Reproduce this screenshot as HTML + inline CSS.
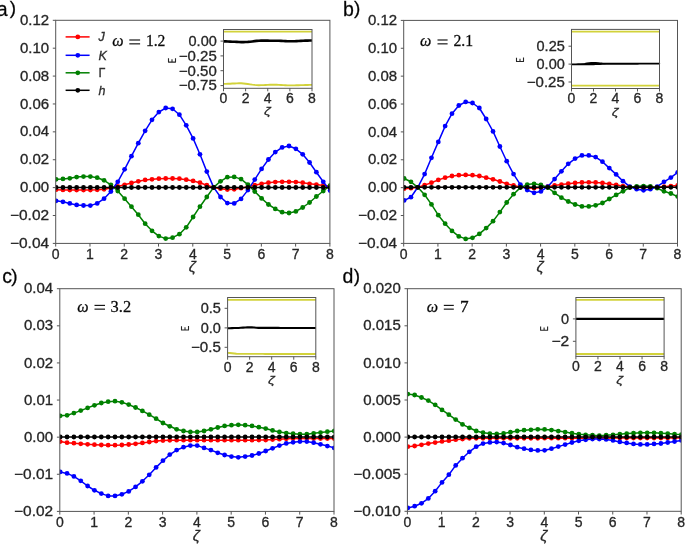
<!DOCTYPE html><html><head><meta charset="utf-8"><style>html,body{margin:0;padding:0;background:#fff;}svg{display:block;will-change:transform;filter:blur(0.3px);}svg text{stroke:#262626;stroke-width:0.3px;}</style></head><body>
<svg width="685" height="544" viewBox="0 0 685 544" font-family='"Liberation Sans", sans-serif' font-size="14" fill="#262626">
<rect width="685" height="544" fill="#fff"/>
<clipPath id="cpa"><rect x="55.7" y="20.3" width="274.2" height="223.1"/></clipPath>
<g clip-path="url(#cpa)">
<polyline points="56.1,189.7 62.95,189.9 69.8,190 76.65,190.1 83.5,190.1 90.35,190 97.2,189.8 104.05,189.3 110.9,188 117.75,186.5 124.6,184.8 131.45,183 138.3,181.3 145.15,179.9 152,179.3 158.85,178.7 165.7,178.5 172.55,178.5 179.4,178.7 186.25,179.7 193.1,180.9 199.95,182.7 206.8,185.2 213.65,187.4 220.5,188.7 227.35,189.6 234.2,189.3 241.05,188.2 247.9,186.8 254.75,185.2 261.6,183.8 268.45,182.7 275.3,182.1 282.15,181.8 289,181.8 295.85,182.1 302.7,182.7 309.55,183.8 316.4,184.6 323.25,185.4 330.1,186" fill="none" stroke="#ff0000" stroke-width="1.5" stroke-linejoin="round"/>
<g fill="#ff0000">
<circle cx="56.1" cy="189.7" r="2.4"/>
<circle cx="62.95" cy="189.9" r="2.4"/>
<circle cx="69.8" cy="190" r="2.4"/>
<circle cx="76.65" cy="190.1" r="2.4"/>
<circle cx="83.5" cy="190.1" r="2.4"/>
<circle cx="90.35" cy="190" r="2.4"/>
<circle cx="97.2" cy="189.8" r="2.4"/>
<circle cx="104.05" cy="189.3" r="2.4"/>
<circle cx="110.9" cy="188" r="2.4"/>
<circle cx="117.75" cy="186.5" r="2.4"/>
<circle cx="124.6" cy="184.8" r="2.4"/>
<circle cx="131.45" cy="183" r="2.4"/>
<circle cx="138.3" cy="181.3" r="2.4"/>
<circle cx="145.15" cy="179.9" r="2.4"/>
<circle cx="152" cy="179.3" r="2.4"/>
<circle cx="158.85" cy="178.7" r="2.4"/>
<circle cx="165.7" cy="178.5" r="2.4"/>
<circle cx="172.55" cy="178.5" r="2.4"/>
<circle cx="179.4" cy="178.7" r="2.4"/>
<circle cx="186.25" cy="179.7" r="2.4"/>
<circle cx="193.1" cy="180.9" r="2.4"/>
<circle cx="199.95" cy="182.7" r="2.4"/>
<circle cx="206.8" cy="185.2" r="2.4"/>
<circle cx="213.65" cy="187.4" r="2.4"/>
<circle cx="220.5" cy="188.7" r="2.4"/>
<circle cx="227.35" cy="189.6" r="2.4"/>
<circle cx="234.2" cy="189.3" r="2.4"/>
<circle cx="241.05" cy="188.2" r="2.4"/>
<circle cx="247.9" cy="186.8" r="2.4"/>
<circle cx="254.75" cy="185.2" r="2.4"/>
<circle cx="261.6" cy="183.8" r="2.4"/>
<circle cx="268.45" cy="182.7" r="2.4"/>
<circle cx="275.3" cy="182.1" r="2.4"/>
<circle cx="282.15" cy="181.8" r="2.4"/>
<circle cx="289" cy="181.8" r="2.4"/>
<circle cx="295.85" cy="182.1" r="2.4"/>
<circle cx="302.7" cy="182.7" r="2.4"/>
<circle cx="309.55" cy="183.8" r="2.4"/>
<circle cx="316.4" cy="184.6" r="2.4"/>
<circle cx="323.25" cy="185.4" r="2.4"/>
<circle cx="330.1" cy="186" r="2.4"/>
</g>
<polyline points="56.1,200.8 62.95,201.8 69.8,203.4 76.65,204.9 83.5,205.5 90.35,205.6 97.2,203.4 104.05,198.7 110.9,191.5 117.75,181.8 124.6,169.3 131.45,156.2 138.3,143.2 145.15,130.8 152,119.8 158.85,112.1 165.7,108 172.55,108.8 179.4,114.7 186.25,125.3 193.1,138.4 199.95,154.3 206.8,171.6 213.65,187.4 220.5,197 227.35,203.1 234.2,203.4 241.05,198.9 247.9,190.1 254.75,179.6 261.6,168.9 268.45,159.5 275.3,152.1 282.15,147.4 289,146 295.85,148.8 302.7,154.3 309.55,162.5 316.4,172.2 323.25,181.8 330.1,190.5" fill="none" stroke="#0000ff" stroke-width="1.5" stroke-linejoin="round"/>
<g fill="#0000ff">
<circle cx="56.1" cy="200.8" r="2.4"/>
<circle cx="62.95" cy="201.8" r="2.4"/>
<circle cx="69.8" cy="203.4" r="2.4"/>
<circle cx="76.65" cy="204.9" r="2.4"/>
<circle cx="83.5" cy="205.5" r="2.4"/>
<circle cx="90.35" cy="205.6" r="2.4"/>
<circle cx="97.2" cy="203.4" r="2.4"/>
<circle cx="104.05" cy="198.7" r="2.4"/>
<circle cx="110.9" cy="191.5" r="2.4"/>
<circle cx="117.75" cy="181.8" r="2.4"/>
<circle cx="124.6" cy="169.3" r="2.4"/>
<circle cx="131.45" cy="156.2" r="2.4"/>
<circle cx="138.3" cy="143.2" r="2.4"/>
<circle cx="145.15" cy="130.8" r="2.4"/>
<circle cx="152" cy="119.8" r="2.4"/>
<circle cx="158.85" cy="112.1" r="2.4"/>
<circle cx="165.7" cy="108" r="2.4"/>
<circle cx="172.55" cy="108.8" r="2.4"/>
<circle cx="179.4" cy="114.7" r="2.4"/>
<circle cx="186.25" cy="125.3" r="2.4"/>
<circle cx="193.1" cy="138.4" r="2.4"/>
<circle cx="199.95" cy="154.3" r="2.4"/>
<circle cx="206.8" cy="171.6" r="2.4"/>
<circle cx="213.65" cy="187.4" r="2.4"/>
<circle cx="220.5" cy="197" r="2.4"/>
<circle cx="227.35" cy="203.1" r="2.4"/>
<circle cx="234.2" cy="203.4" r="2.4"/>
<circle cx="241.05" cy="198.9" r="2.4"/>
<circle cx="247.9" cy="190.1" r="2.4"/>
<circle cx="254.75" cy="179.6" r="2.4"/>
<circle cx="261.6" cy="168.9" r="2.4"/>
<circle cx="268.45" cy="159.5" r="2.4"/>
<circle cx="275.3" cy="152.1" r="2.4"/>
<circle cx="282.15" cy="147.4" r="2.4"/>
<circle cx="289" cy="146" r="2.4"/>
<circle cx="295.85" cy="148.8" r="2.4"/>
<circle cx="302.7" cy="154.3" r="2.4"/>
<circle cx="309.55" cy="162.5" r="2.4"/>
<circle cx="316.4" cy="172.2" r="2.4"/>
<circle cx="323.25" cy="181.8" r="2.4"/>
<circle cx="330.1" cy="190.5" r="2.4"/>
</g>
<polyline points="56.1,179.3 62.95,178.9 69.8,178.3 76.65,177.1 83.5,176.6 90.35,176.6 97.2,177.7 104.05,180.3 110.9,184.8 117.75,191 124.6,198.7 131.45,206.7 138.3,214.7 145.15,223.7 152,230.8 158.85,236.1 165.7,238.6 172.55,237.7 179.4,234.2 186.25,227.3 193.1,217 199.95,206.7 206.8,197 213.65,187.4 220.5,181.3 227.35,177.2 234.2,176.9 241.05,179.1 247.9,184.6 254.75,191.5 261.6,198.4 268.45,204.5 275.3,208.9 282.15,212.2 289,213 295.85,211.4 302.7,207.5 309.55,202.5 316.4,196.5 323.25,191 330.1,185.5" fill="none" stroke="#008000" stroke-width="1.5" stroke-linejoin="round"/>
<g fill="#008000">
<circle cx="56.1" cy="179.3" r="2.4"/>
<circle cx="62.95" cy="178.9" r="2.4"/>
<circle cx="69.8" cy="178.3" r="2.4"/>
<circle cx="76.65" cy="177.1" r="2.4"/>
<circle cx="83.5" cy="176.6" r="2.4"/>
<circle cx="90.35" cy="176.6" r="2.4"/>
<circle cx="97.2" cy="177.7" r="2.4"/>
<circle cx="104.05" cy="180.3" r="2.4"/>
<circle cx="110.9" cy="184.8" r="2.4"/>
<circle cx="117.75" cy="191" r="2.4"/>
<circle cx="124.6" cy="198.7" r="2.4"/>
<circle cx="131.45" cy="206.7" r="2.4"/>
<circle cx="138.3" cy="214.7" r="2.4"/>
<circle cx="145.15" cy="223.7" r="2.4"/>
<circle cx="152" cy="230.8" r="2.4"/>
<circle cx="158.85" cy="236.1" r="2.4"/>
<circle cx="165.7" cy="238.6" r="2.4"/>
<circle cx="172.55" cy="237.7" r="2.4"/>
<circle cx="179.4" cy="234.2" r="2.4"/>
<circle cx="186.25" cy="227.3" r="2.4"/>
<circle cx="193.1" cy="217" r="2.4"/>
<circle cx="199.95" cy="206.7" r="2.4"/>
<circle cx="206.8" cy="197" r="2.4"/>
<circle cx="213.65" cy="187.4" r="2.4"/>
<circle cx="220.5" cy="181.3" r="2.4"/>
<circle cx="227.35" cy="177.2" r="2.4"/>
<circle cx="234.2" cy="176.9" r="2.4"/>
<circle cx="241.05" cy="179.1" r="2.4"/>
<circle cx="247.9" cy="184.6" r="2.4"/>
<circle cx="254.75" cy="191.5" r="2.4"/>
<circle cx="261.6" cy="198.4" r="2.4"/>
<circle cx="268.45" cy="204.5" r="2.4"/>
<circle cx="275.3" cy="208.9" r="2.4"/>
<circle cx="282.15" cy="212.2" r="2.4"/>
<circle cx="289" cy="213" r="2.4"/>
<circle cx="295.85" cy="211.4" r="2.4"/>
<circle cx="302.7" cy="207.5" r="2.4"/>
<circle cx="309.55" cy="202.5" r="2.4"/>
<circle cx="316.4" cy="196.5" r="2.4"/>
<circle cx="323.25" cy="191" r="2.4"/>
<circle cx="330.1" cy="185.5" r="2.4"/>
</g>
<polyline points="56.1,187.5 62.95,187.5 69.8,187.5 76.65,187.5 83.5,187.5 90.35,187.5 97.2,187.5 104.05,187.5 110.9,187.5 117.75,187.5 124.6,187.5 131.45,187.5 138.3,187.5 145.15,187.5 152,187.5 158.85,187.5 165.7,187.5 172.55,187.5 179.4,187.5 186.25,187.5 193.1,187.5 199.95,187.5 206.8,187.5 213.65,187.5 220.5,187.5 227.35,187.5 234.2,187.5 241.05,187.5 247.9,187.5 254.75,187.5 261.6,187.5 268.45,187.5 275.3,187.5 282.15,187.5 289,187.5 295.85,187.5 302.7,187.5 309.55,187.5 316.4,187.5 323.25,187.5 330.1,187.5" fill="none" stroke="#000000" stroke-width="1.5" stroke-linejoin="round"/>
<g fill="#000000">
<circle cx="56.1" cy="187.5" r="2.4"/>
<circle cx="62.95" cy="187.5" r="2.4"/>
<circle cx="69.8" cy="187.5" r="2.4"/>
<circle cx="76.65" cy="187.5" r="2.4"/>
<circle cx="83.5" cy="187.5" r="2.4"/>
<circle cx="90.35" cy="187.5" r="2.4"/>
<circle cx="97.2" cy="187.5" r="2.4"/>
<circle cx="104.05" cy="187.5" r="2.4"/>
<circle cx="110.9" cy="187.5" r="2.4"/>
<circle cx="117.75" cy="187.5" r="2.4"/>
<circle cx="124.6" cy="187.5" r="2.4"/>
<circle cx="131.45" cy="187.5" r="2.4"/>
<circle cx="138.3" cy="187.5" r="2.4"/>
<circle cx="145.15" cy="187.5" r="2.4"/>
<circle cx="152" cy="187.5" r="2.4"/>
<circle cx="158.85" cy="187.5" r="2.4"/>
<circle cx="165.7" cy="187.5" r="2.4"/>
<circle cx="172.55" cy="187.5" r="2.4"/>
<circle cx="179.4" cy="187.5" r="2.4"/>
<circle cx="186.25" cy="187.5" r="2.4"/>
<circle cx="193.1" cy="187.5" r="2.4"/>
<circle cx="199.95" cy="187.5" r="2.4"/>
<circle cx="206.8" cy="187.5" r="2.4"/>
<circle cx="213.65" cy="187.5" r="2.4"/>
<circle cx="220.5" cy="187.5" r="2.4"/>
<circle cx="227.35" cy="187.5" r="2.4"/>
<circle cx="234.2" cy="187.5" r="2.4"/>
<circle cx="241.05" cy="187.5" r="2.4"/>
<circle cx="247.9" cy="187.5" r="2.4"/>
<circle cx="254.75" cy="187.5" r="2.4"/>
<circle cx="261.6" cy="187.5" r="2.4"/>
<circle cx="268.45" cy="187.5" r="2.4"/>
<circle cx="275.3" cy="187.5" r="2.4"/>
<circle cx="282.15" cy="187.5" r="2.4"/>
<circle cx="289" cy="187.5" r="2.4"/>
<circle cx="295.85" cy="187.5" r="2.4"/>
<circle cx="302.7" cy="187.5" r="2.4"/>
<circle cx="309.55" cy="187.5" r="2.4"/>
<circle cx="316.4" cy="187.5" r="2.4"/>
<circle cx="323.25" cy="187.5" r="2.4"/>
<circle cx="330.1" cy="187.5" r="2.4"/>
</g>
</g>
<rect x="55.7" y="20.3" width="274.2" height="223.1" fill="none" stroke="#555" stroke-width="1"/>
<line x1="55.7" y1="243.4" x2="55.7" y2="246.6" stroke="#555" stroke-width="1"/>
<text x="55.7" y="259" text-anchor="middle">0</text>
<line x1="89.97" y1="243.4" x2="89.97" y2="246.6" stroke="#555" stroke-width="1"/>
<text x="89.97" y="259" text-anchor="middle">1</text>
<line x1="124.25" y1="243.4" x2="124.25" y2="246.6" stroke="#555" stroke-width="1"/>
<text x="124.25" y="259" text-anchor="middle">2</text>
<line x1="158.52" y1="243.4" x2="158.52" y2="246.6" stroke="#555" stroke-width="1"/>
<text x="158.52" y="259" text-anchor="middle">3</text>
<line x1="192.8" y1="243.4" x2="192.8" y2="246.6" stroke="#555" stroke-width="1"/>
<text x="192.8" y="259" text-anchor="middle">4</text>
<line x1="227.07" y1="243.4" x2="227.07" y2="246.6" stroke="#555" stroke-width="1"/>
<text x="227.07" y="259" text-anchor="middle">5</text>
<line x1="261.35" y1="243.4" x2="261.35" y2="246.6" stroke="#555" stroke-width="1"/>
<text x="261.35" y="259" text-anchor="middle">6</text>
<line x1="295.62" y1="243.4" x2="295.62" y2="246.6" stroke="#555" stroke-width="1"/>
<text x="295.62" y="259" text-anchor="middle">7</text>
<line x1="329.9" y1="243.4" x2="329.9" y2="246.6" stroke="#555" stroke-width="1"/>
<text x="329.9" y="259" text-anchor="middle">8</text>
<line x1="52.8" y1="20.3" x2="55.7" y2="20.3" stroke="#555" stroke-width="1"/>
<text x="49.1" y="24.9" text-anchor="end" textLength="29.16" lengthAdjust="spacingAndGlyphs">0.12</text>
<line x1="52.8" y1="48.19" x2="55.7" y2="48.19" stroke="#555" stroke-width="1"/>
<text x="49.1" y="52.79" text-anchor="end" textLength="29.16" lengthAdjust="spacingAndGlyphs">0.10</text>
<line x1="52.8" y1="76.08" x2="55.7" y2="76.08" stroke="#555" stroke-width="1"/>
<text x="49.1" y="80.67" text-anchor="end" textLength="29.16" lengthAdjust="spacingAndGlyphs">0.08</text>
<line x1="52.8" y1="103.96" x2="55.7" y2="103.96" stroke="#555" stroke-width="1"/>
<text x="49.1" y="108.56" text-anchor="end" textLength="29.16" lengthAdjust="spacingAndGlyphs">0.06</text>
<line x1="52.8" y1="131.85" x2="55.7" y2="131.85" stroke="#555" stroke-width="1"/>
<text x="49.1" y="136.45" text-anchor="end" textLength="29.16" lengthAdjust="spacingAndGlyphs">0.04</text>
<line x1="52.8" y1="159.74" x2="55.7" y2="159.74" stroke="#555" stroke-width="1"/>
<text x="49.1" y="164.34" text-anchor="end" textLength="29.16" lengthAdjust="spacingAndGlyphs">0.02</text>
<line x1="52.8" y1="187.62" x2="55.7" y2="187.62" stroke="#555" stroke-width="1"/>
<text x="49.1" y="192.22" text-anchor="end" textLength="29.16" lengthAdjust="spacingAndGlyphs">0.00</text>
<line x1="52.8" y1="215.51" x2="55.7" y2="215.51" stroke="#555" stroke-width="1"/>
<text x="49.1" y="220.11" text-anchor="end" textLength="39.12" lengthAdjust="spacingAndGlyphs">−0.02</text>
<line x1="52.8" y1="243.4" x2="55.7" y2="243.4" stroke="#555" stroke-width="1"/>
<text x="49.1" y="248" text-anchor="end" textLength="39.12" lengthAdjust="spacingAndGlyphs">−0.04</text>
<text x="192.3" y="272.3" text-anchor="middle" font-style="italic" font-size="14.2" textLength="7.1" lengthAdjust="spacingAndGlyphs">ζ</text>
<clipPath id="cpb"><rect x="403.7" y="20.4" width="273.8" height="223"/></clipPath>
<g clip-path="url(#cpb)">
<polyline points="404.1,188.7 410.94,188.2 417.78,187.3 424.62,185.1 431.46,182.7 438.3,179.9 445.14,177.7 451.98,176 458.82,175.2 465.66,174.9 472.5,175.2 479.34,176 486.18,177.7 493.02,179.3 499.86,181.5 506.7,183.8 513.54,185.4 520.38,187.1 527.22,187.9 534.06,188.2 540.9,187.5 547.74,186.7 554.58,185.4 561.42,184.6 568.26,183.7 575.1,182.9 581.94,182.5 588.78,182.3 595.62,182.5 602.46,182.9 609.3,183.9 616.14,185 622.98,186.1 629.82,187.1 636.66,187.5 643.5,187.5 650.34,187.5 657.18,187.3 664.02,186.7 670.86,186.1 677.7,185.4" fill="none" stroke="#ff0000" stroke-width="1.5" stroke-linejoin="round"/>
<g fill="#ff0000">
<circle cx="404.1" cy="188.7" r="2.4"/>
<circle cx="410.94" cy="188.2" r="2.4"/>
<circle cx="417.78" cy="187.3" r="2.4"/>
<circle cx="424.62" cy="185.1" r="2.4"/>
<circle cx="431.46" cy="182.7" r="2.4"/>
<circle cx="438.3" cy="179.9" r="2.4"/>
<circle cx="445.14" cy="177.7" r="2.4"/>
<circle cx="451.98" cy="176" r="2.4"/>
<circle cx="458.82" cy="175.2" r="2.4"/>
<circle cx="465.66" cy="174.9" r="2.4"/>
<circle cx="472.5" cy="175.2" r="2.4"/>
<circle cx="479.34" cy="176" r="2.4"/>
<circle cx="486.18" cy="177.7" r="2.4"/>
<circle cx="493.02" cy="179.3" r="2.4"/>
<circle cx="499.86" cy="181.5" r="2.4"/>
<circle cx="506.7" cy="183.8" r="2.4"/>
<circle cx="513.54" cy="185.4" r="2.4"/>
<circle cx="520.38" cy="187.1" r="2.4"/>
<circle cx="527.22" cy="187.9" r="2.4"/>
<circle cx="534.06" cy="188.2" r="2.4"/>
<circle cx="540.9" cy="187.5" r="2.4"/>
<circle cx="547.74" cy="186.7" r="2.4"/>
<circle cx="554.58" cy="185.4" r="2.4"/>
<circle cx="561.42" cy="184.6" r="2.4"/>
<circle cx="568.26" cy="183.7" r="2.4"/>
<circle cx="575.1" cy="182.9" r="2.4"/>
<circle cx="581.94" cy="182.5" r="2.4"/>
<circle cx="588.78" cy="182.3" r="2.4"/>
<circle cx="595.62" cy="182.5" r="2.4"/>
<circle cx="602.46" cy="182.9" r="2.4"/>
<circle cx="609.3" cy="183.9" r="2.4"/>
<circle cx="616.14" cy="185" r="2.4"/>
<circle cx="622.98" cy="186.1" r="2.4"/>
<circle cx="629.82" cy="187.1" r="2.4"/>
<circle cx="636.66" cy="187.5" r="2.4"/>
<circle cx="643.5" cy="187.5" r="2.4"/>
<circle cx="650.34" cy="187.5" r="2.4"/>
<circle cx="657.18" cy="187.3" r="2.4"/>
<circle cx="664.02" cy="186.7" r="2.4"/>
<circle cx="670.86" cy="186.1" r="2.4"/>
<circle cx="677.7" cy="185.4" r="2.4"/>
</g>
<polyline points="404.1,200.4 410.94,197.2 417.78,187.3 424.62,174.1 431.46,157.8 438.3,141.9 445.14,126.1 451.98,113.7 458.82,105.5 465.66,101.9 472.5,103 479.34,108 486.18,119 493.02,131.4 499.86,146.5 506.7,161.2 513.54,174.1 520.38,184.6 527.22,190.1 534.06,192.8 540.9,191.4 547.74,186.7 554.58,179.1 561.42,171.3 568.26,163.8 575.1,158.6 581.94,155.4 588.78,155.4 595.62,157.1 602.46,161.7 609.3,168.1 616.14,174.4 622.98,181.2 629.82,186.7 636.66,189.2 643.5,190.3 650.34,189.2 657.18,186.7 664.02,181.8 670.86,177.6 677.7,172.3" fill="none" stroke="#0000ff" stroke-width="1.5" stroke-linejoin="round"/>
<g fill="#0000ff">
<circle cx="404.1" cy="200.4" r="2.4"/>
<circle cx="410.94" cy="197.2" r="2.4"/>
<circle cx="417.78" cy="187.3" r="2.4"/>
<circle cx="424.62" cy="174.1" r="2.4"/>
<circle cx="431.46" cy="157.8" r="2.4"/>
<circle cx="438.3" cy="141.9" r="2.4"/>
<circle cx="445.14" cy="126.1" r="2.4"/>
<circle cx="451.98" cy="113.7" r="2.4"/>
<circle cx="458.82" cy="105.5" r="2.4"/>
<circle cx="465.66" cy="101.9" r="2.4"/>
<circle cx="472.5" cy="103" r="2.4"/>
<circle cx="479.34" cy="108" r="2.4"/>
<circle cx="486.18" cy="119" r="2.4"/>
<circle cx="493.02" cy="131.4" r="2.4"/>
<circle cx="499.86" cy="146.5" r="2.4"/>
<circle cx="506.7" cy="161.2" r="2.4"/>
<circle cx="513.54" cy="174.1" r="2.4"/>
<circle cx="520.38" cy="184.6" r="2.4"/>
<circle cx="527.22" cy="190.1" r="2.4"/>
<circle cx="534.06" cy="192.8" r="2.4"/>
<circle cx="540.9" cy="191.4" r="2.4"/>
<circle cx="547.74" cy="186.7" r="2.4"/>
<circle cx="554.58" cy="179.1" r="2.4"/>
<circle cx="561.42" cy="171.3" r="2.4"/>
<circle cx="568.26" cy="163.8" r="2.4"/>
<circle cx="575.1" cy="158.6" r="2.4"/>
<circle cx="581.94" cy="155.4" r="2.4"/>
<circle cx="588.78" cy="155.4" r="2.4"/>
<circle cx="595.62" cy="157.1" r="2.4"/>
<circle cx="602.46" cy="161.7" r="2.4"/>
<circle cx="609.3" cy="168.1" r="2.4"/>
<circle cx="616.14" cy="174.4" r="2.4"/>
<circle cx="622.98" cy="181.2" r="2.4"/>
<circle cx="629.82" cy="186.7" r="2.4"/>
<circle cx="636.66" cy="189.2" r="2.4"/>
<circle cx="643.5" cy="190.3" r="2.4"/>
<circle cx="650.34" cy="189.2" r="2.4"/>
<circle cx="657.18" cy="186.7" r="2.4"/>
<circle cx="664.02" cy="181.8" r="2.4"/>
<circle cx="670.86" cy="177.6" r="2.4"/>
<circle cx="677.7" cy="172.3" r="2.4"/>
</g>
<polyline points="404.1,178.5 410.94,181.8 417.78,187.3 424.62,194.8 431.46,204.4 438.3,215.2 445.14,223.7 451.98,230.9 458.82,236.4 465.66,238.9 472.5,237.8 479.34,233.9 486.18,228.1 493.02,221.2 499.86,212.1 506.7,202.5 513.54,194.2 520.38,187.6 527.22,184.6 534.06,183.8 540.9,185 547.74,187.5 554.58,192.8 561.42,197.7 568.26,201.5 575.1,204.5 581.94,206.4 588.78,206.4 595.62,205.3 602.46,203 609.3,199 616.14,194.9 622.98,191.3 629.82,187.5 636.66,186.3 643.5,186.1 650.34,186.3 657.18,188.2 664.02,191.3 670.86,193.5 677.7,196.6" fill="none" stroke="#008000" stroke-width="1.5" stroke-linejoin="round"/>
<g fill="#008000">
<circle cx="404.1" cy="178.5" r="2.4"/>
<circle cx="410.94" cy="181.8" r="2.4"/>
<circle cx="417.78" cy="187.3" r="2.4"/>
<circle cx="424.62" cy="194.8" r="2.4"/>
<circle cx="431.46" cy="204.4" r="2.4"/>
<circle cx="438.3" cy="215.2" r="2.4"/>
<circle cx="445.14" cy="223.7" r="2.4"/>
<circle cx="451.98" cy="230.9" r="2.4"/>
<circle cx="458.82" cy="236.4" r="2.4"/>
<circle cx="465.66" cy="238.9" r="2.4"/>
<circle cx="472.5" cy="237.8" r="2.4"/>
<circle cx="479.34" cy="233.9" r="2.4"/>
<circle cx="486.18" cy="228.1" r="2.4"/>
<circle cx="493.02" cy="221.2" r="2.4"/>
<circle cx="499.86" cy="212.1" r="2.4"/>
<circle cx="506.7" cy="202.5" r="2.4"/>
<circle cx="513.54" cy="194.2" r="2.4"/>
<circle cx="520.38" cy="187.6" r="2.4"/>
<circle cx="527.22" cy="184.6" r="2.4"/>
<circle cx="534.06" cy="183.8" r="2.4"/>
<circle cx="540.9" cy="185" r="2.4"/>
<circle cx="547.74" cy="187.5" r="2.4"/>
<circle cx="554.58" cy="192.8" r="2.4"/>
<circle cx="561.42" cy="197.7" r="2.4"/>
<circle cx="568.26" cy="201.5" r="2.4"/>
<circle cx="575.1" cy="204.5" r="2.4"/>
<circle cx="581.94" cy="206.4" r="2.4"/>
<circle cx="588.78" cy="206.4" r="2.4"/>
<circle cx="595.62" cy="205.3" r="2.4"/>
<circle cx="602.46" cy="203" r="2.4"/>
<circle cx="609.3" cy="199" r="2.4"/>
<circle cx="616.14" cy="194.9" r="2.4"/>
<circle cx="622.98" cy="191.3" r="2.4"/>
<circle cx="629.82" cy="187.5" r="2.4"/>
<circle cx="636.66" cy="186.3" r="2.4"/>
<circle cx="643.5" cy="186.1" r="2.4"/>
<circle cx="650.34" cy="186.3" r="2.4"/>
<circle cx="657.18" cy="188.2" r="2.4"/>
<circle cx="664.02" cy="191.3" r="2.4"/>
<circle cx="670.86" cy="193.5" r="2.4"/>
<circle cx="677.7" cy="196.6" r="2.4"/>
</g>
<polyline points="404.1,187.3 410.94,187.3 417.78,187.3 424.62,187.3 431.46,187.3 438.3,187.3 445.14,187.3 451.98,187.3 458.82,187.3 465.66,187.3 472.5,187.3 479.34,187.3 486.18,187.3 493.02,187.3 499.86,187.3 506.7,187.3 513.54,187.3 520.38,187.3 527.22,187.3 534.06,187.3 540.9,187.3 547.74,187.3 554.58,187.3 561.42,187.3 568.26,187.3 575.1,187.3 581.94,187.3 588.78,187.3 595.62,187.3 602.46,187.3 609.3,187.3 616.14,187.3 622.98,187.3 629.82,187.3 636.66,187.3 643.5,187.3 650.34,187.3 657.18,187.3 664.02,187.3 670.86,187.3 677.7,187.3" fill="none" stroke="#000000" stroke-width="1.5" stroke-linejoin="round"/>
<g fill="#000000">
<circle cx="404.1" cy="187.3" r="2.4"/>
<circle cx="410.94" cy="187.3" r="2.4"/>
<circle cx="417.78" cy="187.3" r="2.4"/>
<circle cx="424.62" cy="187.3" r="2.4"/>
<circle cx="431.46" cy="187.3" r="2.4"/>
<circle cx="438.3" cy="187.3" r="2.4"/>
<circle cx="445.14" cy="187.3" r="2.4"/>
<circle cx="451.98" cy="187.3" r="2.4"/>
<circle cx="458.82" cy="187.3" r="2.4"/>
<circle cx="465.66" cy="187.3" r="2.4"/>
<circle cx="472.5" cy="187.3" r="2.4"/>
<circle cx="479.34" cy="187.3" r="2.4"/>
<circle cx="486.18" cy="187.3" r="2.4"/>
<circle cx="493.02" cy="187.3" r="2.4"/>
<circle cx="499.86" cy="187.3" r="2.4"/>
<circle cx="506.7" cy="187.3" r="2.4"/>
<circle cx="513.54" cy="187.3" r="2.4"/>
<circle cx="520.38" cy="187.3" r="2.4"/>
<circle cx="527.22" cy="187.3" r="2.4"/>
<circle cx="534.06" cy="187.3" r="2.4"/>
<circle cx="540.9" cy="187.3" r="2.4"/>
<circle cx="547.74" cy="187.3" r="2.4"/>
<circle cx="554.58" cy="187.3" r="2.4"/>
<circle cx="561.42" cy="187.3" r="2.4"/>
<circle cx="568.26" cy="187.3" r="2.4"/>
<circle cx="575.1" cy="187.3" r="2.4"/>
<circle cx="581.94" cy="187.3" r="2.4"/>
<circle cx="588.78" cy="187.3" r="2.4"/>
<circle cx="595.62" cy="187.3" r="2.4"/>
<circle cx="602.46" cy="187.3" r="2.4"/>
<circle cx="609.3" cy="187.3" r="2.4"/>
<circle cx="616.14" cy="187.3" r="2.4"/>
<circle cx="622.98" cy="187.3" r="2.4"/>
<circle cx="629.82" cy="187.3" r="2.4"/>
<circle cx="636.66" cy="187.3" r="2.4"/>
<circle cx="643.5" cy="187.3" r="2.4"/>
<circle cx="650.34" cy="187.3" r="2.4"/>
<circle cx="657.18" cy="187.3" r="2.4"/>
<circle cx="664.02" cy="187.3" r="2.4"/>
<circle cx="670.86" cy="187.3" r="2.4"/>
<circle cx="677.7" cy="187.3" r="2.4"/>
</g>
</g>
<rect x="403.7" y="20.4" width="273.8" height="223" fill="none" stroke="#555" stroke-width="1"/>
<line x1="403.7" y1="243.4" x2="403.7" y2="246.6" stroke="#555" stroke-width="1"/>
<text x="403.7" y="259" text-anchor="middle">0</text>
<line x1="437.93" y1="243.4" x2="437.93" y2="246.6" stroke="#555" stroke-width="1"/>
<text x="437.93" y="259" text-anchor="middle">1</text>
<line x1="472.15" y1="243.4" x2="472.15" y2="246.6" stroke="#555" stroke-width="1"/>
<text x="472.15" y="259" text-anchor="middle">2</text>
<line x1="506.38" y1="243.4" x2="506.38" y2="246.6" stroke="#555" stroke-width="1"/>
<text x="506.38" y="259" text-anchor="middle">3</text>
<line x1="540.6" y1="243.4" x2="540.6" y2="246.6" stroke="#555" stroke-width="1"/>
<text x="540.6" y="259" text-anchor="middle">4</text>
<line x1="574.83" y1="243.4" x2="574.83" y2="246.6" stroke="#555" stroke-width="1"/>
<text x="574.83" y="259" text-anchor="middle">5</text>
<line x1="609.05" y1="243.4" x2="609.05" y2="246.6" stroke="#555" stroke-width="1"/>
<text x="609.05" y="259" text-anchor="middle">6</text>
<line x1="643.27" y1="243.4" x2="643.27" y2="246.6" stroke="#555" stroke-width="1"/>
<text x="643.27" y="259" text-anchor="middle">7</text>
<line x1="677.5" y1="243.4" x2="677.5" y2="246.6" stroke="#555" stroke-width="1"/>
<text x="677.5" y="259" text-anchor="middle">8</text>
<line x1="400.8" y1="20.4" x2="403.7" y2="20.4" stroke="#555" stroke-width="1"/>
<text x="397.1" y="25" text-anchor="end" textLength="29.16" lengthAdjust="spacingAndGlyphs">0.12</text>
<line x1="400.8" y1="48.27" x2="403.7" y2="48.27" stroke="#555" stroke-width="1"/>
<text x="397.1" y="52.88" text-anchor="end" textLength="29.16" lengthAdjust="spacingAndGlyphs">0.10</text>
<line x1="400.8" y1="76.15" x2="403.7" y2="76.15" stroke="#555" stroke-width="1"/>
<text x="397.1" y="80.75" text-anchor="end" textLength="29.16" lengthAdjust="spacingAndGlyphs">0.08</text>
<line x1="400.8" y1="104.03" x2="403.7" y2="104.03" stroke="#555" stroke-width="1"/>
<text x="397.1" y="108.62" text-anchor="end" textLength="29.16" lengthAdjust="spacingAndGlyphs">0.06</text>
<line x1="400.8" y1="131.9" x2="403.7" y2="131.9" stroke="#555" stroke-width="1"/>
<text x="397.1" y="136.5" text-anchor="end" textLength="29.16" lengthAdjust="spacingAndGlyphs">0.04</text>
<line x1="400.8" y1="159.78" x2="403.7" y2="159.78" stroke="#555" stroke-width="1"/>
<text x="397.1" y="164.38" text-anchor="end" textLength="29.16" lengthAdjust="spacingAndGlyphs">0.02</text>
<line x1="400.8" y1="187.65" x2="403.7" y2="187.65" stroke="#555" stroke-width="1"/>
<text x="397.1" y="192.25" text-anchor="end" textLength="29.16" lengthAdjust="spacingAndGlyphs">0.00</text>
<line x1="400.8" y1="215.53" x2="403.7" y2="215.53" stroke="#555" stroke-width="1"/>
<text x="397.1" y="220.12" text-anchor="end" textLength="39.12" lengthAdjust="spacingAndGlyphs">−0.02</text>
<line x1="400.8" y1="243.4" x2="403.7" y2="243.4" stroke="#555" stroke-width="1"/>
<text x="397.1" y="248" text-anchor="end" textLength="39.12" lengthAdjust="spacingAndGlyphs">−0.04</text>
<text x="540.1" y="272.3" text-anchor="middle" font-style="italic" font-size="14.2" textLength="7.1" lengthAdjust="spacingAndGlyphs">ζ</text>
<clipPath id="cpc"><rect x="59.8" y="288.7" width="274.2" height="222.7"/></clipPath>
<g clip-path="url(#cpc)">
<polyline points="60.2,441.6 67.05,442.7 73.9,443.2 80.75,443.8 87.6,444.3 94.45,444.7 101.3,445 108.15,445.2 115,445.2 121.85,445 128.7,444.5 135.55,443.8 142.4,442.9 149.25,442 156.1,441.1 162.95,440.6 169.8,440.3 176.65,440.2 183.5,440.2 190.35,440.2 197.2,440.2 204.05,440.2 210.9,440.2 217.75,440.2 224.6,440.2 231.45,440.2 238.3,440.2 245.15,440.2 252,440.2 258.85,440.1 265.7,440 272.55,439.6 279.4,439.2 286.25,438.8 293.1,438.5 299.95,438.5 306.8,438.5 313.65,438.5 320.5,438.5 327.35,438.5 334.2,438.5" fill="none" stroke="#ff0000" stroke-width="1.5" stroke-linejoin="round"/>
<g fill="#ff0000">
<circle cx="60.2" cy="441.6" r="2.4"/>
<circle cx="67.05" cy="442.7" r="2.4"/>
<circle cx="73.9" cy="443.2" r="2.4"/>
<circle cx="80.75" cy="443.8" r="2.4"/>
<circle cx="87.6" cy="444.3" r="2.4"/>
<circle cx="94.45" cy="444.7" r="2.4"/>
<circle cx="101.3" cy="445" r="2.4"/>
<circle cx="108.15" cy="445.2" r="2.4"/>
<circle cx="115" cy="445.2" r="2.4"/>
<circle cx="121.85" cy="445" r="2.4"/>
<circle cx="128.7" cy="444.5" r="2.4"/>
<circle cx="135.55" cy="443.8" r="2.4"/>
<circle cx="142.4" cy="442.9" r="2.4"/>
<circle cx="149.25" cy="442" r="2.4"/>
<circle cx="156.1" cy="441.1" r="2.4"/>
<circle cx="162.95" cy="440.6" r="2.4"/>
<circle cx="169.8" cy="440.3" r="2.4"/>
<circle cx="176.65" cy="440.2" r="2.4"/>
<circle cx="183.5" cy="440.2" r="2.4"/>
<circle cx="190.35" cy="440.2" r="2.4"/>
<circle cx="197.2" cy="440.2" r="2.4"/>
<circle cx="204.05" cy="440.2" r="2.4"/>
<circle cx="210.9" cy="440.2" r="2.4"/>
<circle cx="217.75" cy="440.2" r="2.4"/>
<circle cx="224.6" cy="440.2" r="2.4"/>
<circle cx="231.45" cy="440.2" r="2.4"/>
<circle cx="238.3" cy="440.2" r="2.4"/>
<circle cx="245.15" cy="440.2" r="2.4"/>
<circle cx="252" cy="440.2" r="2.4"/>
<circle cx="258.85" cy="440.1" r="2.4"/>
<circle cx="265.7" cy="440" r="2.4"/>
<circle cx="272.55" cy="439.6" r="2.4"/>
<circle cx="279.4" cy="439.2" r="2.4"/>
<circle cx="286.25" cy="438.8" r="2.4"/>
<circle cx="293.1" cy="438.5" r="2.4"/>
<circle cx="299.95" cy="438.5" r="2.4"/>
<circle cx="306.8" cy="438.5" r="2.4"/>
<circle cx="313.65" cy="438.5" r="2.4"/>
<circle cx="320.5" cy="438.5" r="2.4"/>
<circle cx="327.35" cy="438.5" r="2.4"/>
<circle cx="334.2" cy="438.5" r="2.4"/>
</g>
<polyline points="60.2,471.9 67.05,473.4 73.9,476.4 80.75,480.8 87.6,486 94.45,490.3 101.3,493.6 108.15,495.9 115,495.9 121.85,494.3 128.7,491.4 135.55,486.9 142.4,481.3 149.25,474.8 156.1,467.4 162.95,460.7 169.8,454.6 176.65,450.1 183.5,447.2 190.35,445.6 197.2,445.6 204.05,447.9 210.9,450.1 217.75,452.8 224.6,455 231.45,456.6 238.3,457.3 245.15,456.6 252,455.5 258.85,453.5 265.7,451 272.55,448.3 279.4,445.6 286.25,443.4 293.1,442.3 299.95,441.6 306.8,441.6 313.65,442.7 320.5,444.3 327.35,446.1 334.2,447.9" fill="none" stroke="#0000ff" stroke-width="1.5" stroke-linejoin="round"/>
<g fill="#0000ff">
<circle cx="60.2" cy="471.9" r="2.4"/>
<circle cx="67.05" cy="473.4" r="2.4"/>
<circle cx="73.9" cy="476.4" r="2.4"/>
<circle cx="80.75" cy="480.8" r="2.4"/>
<circle cx="87.6" cy="486" r="2.4"/>
<circle cx="94.45" cy="490.3" r="2.4"/>
<circle cx="101.3" cy="493.6" r="2.4"/>
<circle cx="108.15" cy="495.9" r="2.4"/>
<circle cx="115" cy="495.9" r="2.4"/>
<circle cx="121.85" cy="494.3" r="2.4"/>
<circle cx="128.7" cy="491.4" r="2.4"/>
<circle cx="135.55" cy="486.9" r="2.4"/>
<circle cx="142.4" cy="481.3" r="2.4"/>
<circle cx="149.25" cy="474.8" r="2.4"/>
<circle cx="156.1" cy="467.4" r="2.4"/>
<circle cx="162.95" cy="460.7" r="2.4"/>
<circle cx="169.8" cy="454.6" r="2.4"/>
<circle cx="176.65" cy="450.1" r="2.4"/>
<circle cx="183.5" cy="447.2" r="2.4"/>
<circle cx="190.35" cy="445.6" r="2.4"/>
<circle cx="197.2" cy="445.6" r="2.4"/>
<circle cx="204.05" cy="447.9" r="2.4"/>
<circle cx="210.9" cy="450.1" r="2.4"/>
<circle cx="217.75" cy="452.8" r="2.4"/>
<circle cx="224.6" cy="455" r="2.4"/>
<circle cx="231.45" cy="456.6" r="2.4"/>
<circle cx="238.3" cy="457.3" r="2.4"/>
<circle cx="245.15" cy="456.6" r="2.4"/>
<circle cx="252" cy="455.5" r="2.4"/>
<circle cx="258.85" cy="453.5" r="2.4"/>
<circle cx="265.7" cy="451" r="2.4"/>
<circle cx="272.55" cy="448.3" r="2.4"/>
<circle cx="279.4" cy="445.6" r="2.4"/>
<circle cx="286.25" cy="443.4" r="2.4"/>
<circle cx="293.1" cy="442.3" r="2.4"/>
<circle cx="299.95" cy="441.6" r="2.4"/>
<circle cx="306.8" cy="441.6" r="2.4"/>
<circle cx="313.65" cy="442.7" r="2.4"/>
<circle cx="320.5" cy="444.3" r="2.4"/>
<circle cx="327.35" cy="446.1" r="2.4"/>
<circle cx="334.2" cy="447.9" r="2.4"/>
</g>
<polyline points="60.2,415.8 67.05,415.3 73.9,413.1 80.75,410.6 87.6,407.9 94.45,405.3 101.3,403 108.15,401.7 115,401.2 121.85,402.3 128.7,404.6 135.55,407.5 142.4,410.9 149.25,414.7 156.1,418.7 162.95,423 169.8,426.3 176.65,429.3 183.5,431 190.35,431.9 197.2,431.9 204.05,431 210.9,429.3 217.75,427.5 224.6,425.9 231.45,425.2 238.3,424.8 245.15,425.2 252,425.9 258.85,427.2 265.7,428.6 272.55,430.4 279.4,431.9 286.25,433.1 293.1,433.7 299.95,434.2 306.8,434.2 313.65,433.3 320.5,432.6 327.35,431.7 334.2,431" fill="none" stroke="#008000" stroke-width="1.5" stroke-linejoin="round"/>
<g fill="#008000">
<circle cx="60.2" cy="415.8" r="2.4"/>
<circle cx="67.05" cy="415.3" r="2.4"/>
<circle cx="73.9" cy="413.1" r="2.4"/>
<circle cx="80.75" cy="410.6" r="2.4"/>
<circle cx="87.6" cy="407.9" r="2.4"/>
<circle cx="94.45" cy="405.3" r="2.4"/>
<circle cx="101.3" cy="403" r="2.4"/>
<circle cx="108.15" cy="401.7" r="2.4"/>
<circle cx="115" cy="401.2" r="2.4"/>
<circle cx="121.85" cy="402.3" r="2.4"/>
<circle cx="128.7" cy="404.6" r="2.4"/>
<circle cx="135.55" cy="407.5" r="2.4"/>
<circle cx="142.4" cy="410.9" r="2.4"/>
<circle cx="149.25" cy="414.7" r="2.4"/>
<circle cx="156.1" cy="418.7" r="2.4"/>
<circle cx="162.95" cy="423" r="2.4"/>
<circle cx="169.8" cy="426.3" r="2.4"/>
<circle cx="176.65" cy="429.3" r="2.4"/>
<circle cx="183.5" cy="431" r="2.4"/>
<circle cx="190.35" cy="431.9" r="2.4"/>
<circle cx="197.2" cy="431.9" r="2.4"/>
<circle cx="204.05" cy="431" r="2.4"/>
<circle cx="210.9" cy="429.3" r="2.4"/>
<circle cx="217.75" cy="427.5" r="2.4"/>
<circle cx="224.6" cy="425.9" r="2.4"/>
<circle cx="231.45" cy="425.2" r="2.4"/>
<circle cx="238.3" cy="424.8" r="2.4"/>
<circle cx="245.15" cy="425.2" r="2.4"/>
<circle cx="252" cy="425.9" r="2.4"/>
<circle cx="258.85" cy="427.2" r="2.4"/>
<circle cx="265.7" cy="428.6" r="2.4"/>
<circle cx="272.55" cy="430.4" r="2.4"/>
<circle cx="279.4" cy="431.9" r="2.4"/>
<circle cx="286.25" cy="433.1" r="2.4"/>
<circle cx="293.1" cy="433.7" r="2.4"/>
<circle cx="299.95" cy="434.2" r="2.4"/>
<circle cx="306.8" cy="434.2" r="2.4"/>
<circle cx="313.65" cy="433.3" r="2.4"/>
<circle cx="320.5" cy="432.6" r="2.4"/>
<circle cx="327.35" cy="431.7" r="2.4"/>
<circle cx="334.2" cy="431" r="2.4"/>
</g>
<polyline points="60.2,437 67.05,437 73.9,437 80.75,437 87.6,437 94.45,437 101.3,437 108.15,437 115,437 121.85,437 128.7,437 135.55,437 142.4,437 149.25,437 156.1,437 162.95,437 169.8,437 176.65,437 183.5,437 190.35,437 197.2,437 204.05,437 210.9,437 217.75,437 224.6,437 231.45,437 238.3,437 245.15,437 252,437 258.85,437 265.7,437 272.55,437 279.4,437 286.25,437 293.1,437 299.95,437 306.8,437 313.65,437 320.5,437 327.35,437 334.2,437" fill="none" stroke="#000000" stroke-width="1.5" stroke-linejoin="round"/>
<g fill="#000000">
<circle cx="60.2" cy="437" r="2.4"/>
<circle cx="67.05" cy="437" r="2.4"/>
<circle cx="73.9" cy="437" r="2.4"/>
<circle cx="80.75" cy="437" r="2.4"/>
<circle cx="87.6" cy="437" r="2.4"/>
<circle cx="94.45" cy="437" r="2.4"/>
<circle cx="101.3" cy="437" r="2.4"/>
<circle cx="108.15" cy="437" r="2.4"/>
<circle cx="115" cy="437" r="2.4"/>
<circle cx="121.85" cy="437" r="2.4"/>
<circle cx="128.7" cy="437" r="2.4"/>
<circle cx="135.55" cy="437" r="2.4"/>
<circle cx="142.4" cy="437" r="2.4"/>
<circle cx="149.25" cy="437" r="2.4"/>
<circle cx="156.1" cy="437" r="2.4"/>
<circle cx="162.95" cy="437" r="2.4"/>
<circle cx="169.8" cy="437" r="2.4"/>
<circle cx="176.65" cy="437" r="2.4"/>
<circle cx="183.5" cy="437" r="2.4"/>
<circle cx="190.35" cy="437" r="2.4"/>
<circle cx="197.2" cy="437" r="2.4"/>
<circle cx="204.05" cy="437" r="2.4"/>
<circle cx="210.9" cy="437" r="2.4"/>
<circle cx="217.75" cy="437" r="2.4"/>
<circle cx="224.6" cy="437" r="2.4"/>
<circle cx="231.45" cy="437" r="2.4"/>
<circle cx="238.3" cy="437" r="2.4"/>
<circle cx="245.15" cy="437" r="2.4"/>
<circle cx="252" cy="437" r="2.4"/>
<circle cx="258.85" cy="437" r="2.4"/>
<circle cx="265.7" cy="437" r="2.4"/>
<circle cx="272.55" cy="437" r="2.4"/>
<circle cx="279.4" cy="437" r="2.4"/>
<circle cx="286.25" cy="437" r="2.4"/>
<circle cx="293.1" cy="437" r="2.4"/>
<circle cx="299.95" cy="437" r="2.4"/>
<circle cx="306.8" cy="437" r="2.4"/>
<circle cx="313.65" cy="437" r="2.4"/>
<circle cx="320.5" cy="437" r="2.4"/>
<circle cx="327.35" cy="437" r="2.4"/>
<circle cx="334.2" cy="437" r="2.4"/>
</g>
</g>
<rect x="59.8" y="288.7" width="274.2" height="222.7" fill="none" stroke="#555" stroke-width="1"/>
<line x1="59.8" y1="511.4" x2="59.8" y2="514.6" stroke="#555" stroke-width="1"/>
<text x="59.8" y="526.9" text-anchor="middle">0</text>
<line x1="94.07" y1="511.4" x2="94.07" y2="514.6" stroke="#555" stroke-width="1"/>
<text x="94.07" y="526.9" text-anchor="middle">1</text>
<line x1="128.35" y1="511.4" x2="128.35" y2="514.6" stroke="#555" stroke-width="1"/>
<text x="128.35" y="526.9" text-anchor="middle">2</text>
<line x1="162.62" y1="511.4" x2="162.62" y2="514.6" stroke="#555" stroke-width="1"/>
<text x="162.62" y="526.9" text-anchor="middle">3</text>
<line x1="196.9" y1="511.4" x2="196.9" y2="514.6" stroke="#555" stroke-width="1"/>
<text x="196.9" y="526.9" text-anchor="middle">4</text>
<line x1="231.18" y1="511.4" x2="231.18" y2="514.6" stroke="#555" stroke-width="1"/>
<text x="231.18" y="526.9" text-anchor="middle">5</text>
<line x1="265.45" y1="511.4" x2="265.45" y2="514.6" stroke="#555" stroke-width="1"/>
<text x="265.45" y="526.9" text-anchor="middle">6</text>
<line x1="299.72" y1="511.4" x2="299.72" y2="514.6" stroke="#555" stroke-width="1"/>
<text x="299.72" y="526.9" text-anchor="middle">7</text>
<line x1="334" y1="511.4" x2="334" y2="514.6" stroke="#555" stroke-width="1"/>
<text x="334" y="526.9" text-anchor="middle">8</text>
<line x1="56.9" y1="288.7" x2="59.8" y2="288.7" stroke="#555" stroke-width="1"/>
<text x="53.2" y="293.3" text-anchor="end" textLength="29.16" lengthAdjust="spacingAndGlyphs">0.04</text>
<line x1="56.9" y1="325.82" x2="59.8" y2="325.82" stroke="#555" stroke-width="1"/>
<text x="53.2" y="330.42" text-anchor="end" textLength="29.16" lengthAdjust="spacingAndGlyphs">0.03</text>
<line x1="56.9" y1="362.93" x2="59.8" y2="362.93" stroke="#555" stroke-width="1"/>
<text x="53.2" y="367.53" text-anchor="end" textLength="29.16" lengthAdjust="spacingAndGlyphs">0.02</text>
<line x1="56.9" y1="400.05" x2="59.8" y2="400.05" stroke="#555" stroke-width="1"/>
<text x="53.2" y="404.65" text-anchor="end" textLength="29.16" lengthAdjust="spacingAndGlyphs">0.01</text>
<line x1="56.9" y1="437.17" x2="59.8" y2="437.17" stroke="#555" stroke-width="1"/>
<text x="53.2" y="441.77" text-anchor="end" textLength="29.16" lengthAdjust="spacingAndGlyphs">0.00</text>
<line x1="56.9" y1="474.28" x2="59.8" y2="474.28" stroke="#555" stroke-width="1"/>
<text x="53.2" y="478.88" text-anchor="end" textLength="39.12" lengthAdjust="spacingAndGlyphs">−0.01</text>
<line x1="56.9" y1="511.4" x2="59.8" y2="511.4" stroke="#555" stroke-width="1"/>
<text x="53.2" y="516" text-anchor="end" textLength="39.12" lengthAdjust="spacingAndGlyphs">−0.02</text>
<text x="196.4" y="540.9" text-anchor="middle" font-style="italic" font-size="14.2" textLength="7.1" lengthAdjust="spacingAndGlyphs">ζ</text>
<clipPath id="cpd"><rect x="407.4" y="288.7" width="273.8" height="222.6"/></clipPath>
<g clip-path="url(#cpd)">
<polyline points="407.8,446.7 414.64,446 421.48,444.8 428.32,443.6 435.16,442.6 442,441.4 448.84,440.7 455.68,439.7 462.52,439 469.36,438.3 476.2,438.3 483.04,438.3 489.88,438.3 496.72,438.3 503.56,438.3 510.4,438.3 517.24,438.3 524.08,438.3 530.92,438.3 537.76,438.3 544.6,438.2 551.44,438.2 558.28,438.2 565.12,438.2 571.96,438.2 578.8,438.2 585.64,438.2 592.48,438.2 599.32,438.2 606.16,438.2 613,438 619.84,438 626.68,438 633.52,438 640.36,438 647.2,438 654.04,438 660.88,438 667.72,438 674.56,438 681.4,438" fill="none" stroke="#ff0000" stroke-width="1.5" stroke-linejoin="round"/>
<g fill="#ff0000">
<circle cx="407.8" cy="446.7" r="2.4"/>
<circle cx="414.64" cy="446" r="2.4"/>
<circle cx="421.48" cy="444.8" r="2.4"/>
<circle cx="428.32" cy="443.6" r="2.4"/>
<circle cx="435.16" cy="442.6" r="2.4"/>
<circle cx="442" cy="441.4" r="2.4"/>
<circle cx="448.84" cy="440.7" r="2.4"/>
<circle cx="455.68" cy="439.7" r="2.4"/>
<circle cx="462.52" cy="439" r="2.4"/>
<circle cx="469.36" cy="438.3" r="2.4"/>
<circle cx="476.2" cy="438.3" r="2.4"/>
<circle cx="483.04" cy="438.3" r="2.4"/>
<circle cx="489.88" cy="438.3" r="2.4"/>
<circle cx="496.72" cy="438.3" r="2.4"/>
<circle cx="503.56" cy="438.3" r="2.4"/>
<circle cx="510.4" cy="438.3" r="2.4"/>
<circle cx="517.24" cy="438.3" r="2.4"/>
<circle cx="524.08" cy="438.3" r="2.4"/>
<circle cx="530.92" cy="438.3" r="2.4"/>
<circle cx="537.76" cy="438.3" r="2.4"/>
<circle cx="544.6" cy="438.2" r="2.4"/>
<circle cx="551.44" cy="438.2" r="2.4"/>
<circle cx="558.28" cy="438.2" r="2.4"/>
<circle cx="565.12" cy="438.2" r="2.4"/>
<circle cx="571.96" cy="438.2" r="2.4"/>
<circle cx="578.8" cy="438.2" r="2.4"/>
<circle cx="585.64" cy="438.2" r="2.4"/>
<circle cx="592.48" cy="438.2" r="2.4"/>
<circle cx="599.32" cy="438.2" r="2.4"/>
<circle cx="606.16" cy="438.2" r="2.4"/>
<circle cx="613" cy="438" r="2.4"/>
<circle cx="619.84" cy="438" r="2.4"/>
<circle cx="626.68" cy="438" r="2.4"/>
<circle cx="633.52" cy="438" r="2.4"/>
<circle cx="640.36" cy="438" r="2.4"/>
<circle cx="647.2" cy="438" r="2.4"/>
<circle cx="654.04" cy="438" r="2.4"/>
<circle cx="660.88" cy="438" r="2.4"/>
<circle cx="667.72" cy="438" r="2.4"/>
<circle cx="674.56" cy="438" r="2.4"/>
<circle cx="681.4" cy="438" r="2.4"/>
</g>
<polyline points="407.8,507.9 414.64,506.2 421.48,503.3 428.32,498.4 435.16,491.2 442,482.4 448.84,474.7 455.68,465.4 462.52,458.2 469.36,451.8 476.2,446.7 483.04,443.6 489.88,442.4 496.72,442.1 503.56,443.1 510.4,445 517.24,447.2 524.08,448.7 530.92,449.9 537.76,450.4 544.6,450.3 551.44,448.7 558.28,446.6 565.12,444.6 571.96,442.5 578.8,440.8 585.64,439.8 592.48,439 599.32,439 606.16,439.4 613,440.4 619.84,441.9 626.68,442.9 633.52,443.9 640.36,444.4 647.2,444.4 654.04,443.9 660.88,443.5 667.72,442.5 674.56,441.5 681.4,440.4" fill="none" stroke="#0000ff" stroke-width="1.5" stroke-linejoin="round"/>
<g fill="#0000ff">
<circle cx="407.8" cy="507.9" r="2.4"/>
<circle cx="414.64" cy="506.2" r="2.4"/>
<circle cx="421.48" cy="503.3" r="2.4"/>
<circle cx="428.32" cy="498.4" r="2.4"/>
<circle cx="435.16" cy="491.2" r="2.4"/>
<circle cx="442" cy="482.4" r="2.4"/>
<circle cx="448.84" cy="474.7" r="2.4"/>
<circle cx="455.68" cy="465.4" r="2.4"/>
<circle cx="462.52" cy="458.2" r="2.4"/>
<circle cx="469.36" cy="451.8" r="2.4"/>
<circle cx="476.2" cy="446.7" r="2.4"/>
<circle cx="483.04" cy="443.6" r="2.4"/>
<circle cx="489.88" cy="442.4" r="2.4"/>
<circle cx="496.72" cy="442.1" r="2.4"/>
<circle cx="503.56" cy="443.1" r="2.4"/>
<circle cx="510.4" cy="445" r="2.4"/>
<circle cx="517.24" cy="447.2" r="2.4"/>
<circle cx="524.08" cy="448.7" r="2.4"/>
<circle cx="530.92" cy="449.9" r="2.4"/>
<circle cx="537.76" cy="450.4" r="2.4"/>
<circle cx="544.6" cy="450.3" r="2.4"/>
<circle cx="551.44" cy="448.7" r="2.4"/>
<circle cx="558.28" cy="446.6" r="2.4"/>
<circle cx="565.12" cy="444.6" r="2.4"/>
<circle cx="571.96" cy="442.5" r="2.4"/>
<circle cx="578.8" cy="440.8" r="2.4"/>
<circle cx="585.64" cy="439.8" r="2.4"/>
<circle cx="592.48" cy="439" r="2.4"/>
<circle cx="599.32" cy="439" r="2.4"/>
<circle cx="606.16" cy="439.4" r="2.4"/>
<circle cx="613" cy="440.4" r="2.4"/>
<circle cx="619.84" cy="441.9" r="2.4"/>
<circle cx="626.68" cy="442.9" r="2.4"/>
<circle cx="633.52" cy="443.9" r="2.4"/>
<circle cx="640.36" cy="444.4" r="2.4"/>
<circle cx="647.2" cy="444.4" r="2.4"/>
<circle cx="654.04" cy="443.9" r="2.4"/>
<circle cx="660.88" cy="443.5" r="2.4"/>
<circle cx="667.72" cy="442.5" r="2.4"/>
<circle cx="674.56" cy="441.5" r="2.4"/>
<circle cx="681.4" cy="440.4" r="2.4"/>
</g>
<polyline points="407.8,394.1 414.64,395 421.48,397.5 428.32,400.6 435.16,404.8 442,409.9 448.84,414.7 455.68,419.6 462.52,424.4 469.36,427.8 476.2,431 483.04,432.7 489.88,433.6 496.72,433.9 503.56,433.4 510.4,432.2 517.24,431 524.08,430.2 530.92,429.8 537.76,429.3 544.6,429.4 551.44,430.1 558.28,431.1 565.12,432.1 571.96,433.2 578.8,434.2 585.64,434.8 592.48,435.2 599.32,435.7 606.16,435.2 613,434.8 619.84,434.2 626.68,433.6 633.52,433.2 640.36,432.8 647.2,432.8 654.04,432.8 660.88,433.2 667.72,433.6 674.56,434.2 681.4,434.6" fill="none" stroke="#008000" stroke-width="1.5" stroke-linejoin="round"/>
<g fill="#008000">
<circle cx="407.8" cy="394.1" r="2.4"/>
<circle cx="414.64" cy="395" r="2.4"/>
<circle cx="421.48" cy="397.5" r="2.4"/>
<circle cx="428.32" cy="400.6" r="2.4"/>
<circle cx="435.16" cy="404.8" r="2.4"/>
<circle cx="442" cy="409.9" r="2.4"/>
<circle cx="448.84" cy="414.7" r="2.4"/>
<circle cx="455.68" cy="419.6" r="2.4"/>
<circle cx="462.52" cy="424.4" r="2.4"/>
<circle cx="469.36" cy="427.8" r="2.4"/>
<circle cx="476.2" cy="431" r="2.4"/>
<circle cx="483.04" cy="432.7" r="2.4"/>
<circle cx="489.88" cy="433.6" r="2.4"/>
<circle cx="496.72" cy="433.9" r="2.4"/>
<circle cx="503.56" cy="433.4" r="2.4"/>
<circle cx="510.4" cy="432.2" r="2.4"/>
<circle cx="517.24" cy="431" r="2.4"/>
<circle cx="524.08" cy="430.2" r="2.4"/>
<circle cx="530.92" cy="429.8" r="2.4"/>
<circle cx="537.76" cy="429.3" r="2.4"/>
<circle cx="544.6" cy="429.4" r="2.4"/>
<circle cx="551.44" cy="430.1" r="2.4"/>
<circle cx="558.28" cy="431.1" r="2.4"/>
<circle cx="565.12" cy="432.1" r="2.4"/>
<circle cx="571.96" cy="433.2" r="2.4"/>
<circle cx="578.8" cy="434.2" r="2.4"/>
<circle cx="585.64" cy="434.8" r="2.4"/>
<circle cx="592.48" cy="435.2" r="2.4"/>
<circle cx="599.32" cy="435.7" r="2.4"/>
<circle cx="606.16" cy="435.2" r="2.4"/>
<circle cx="613" cy="434.8" r="2.4"/>
<circle cx="619.84" cy="434.2" r="2.4"/>
<circle cx="626.68" cy="433.6" r="2.4"/>
<circle cx="633.52" cy="433.2" r="2.4"/>
<circle cx="640.36" cy="432.8" r="2.4"/>
<circle cx="647.2" cy="432.8" r="2.4"/>
<circle cx="654.04" cy="432.8" r="2.4"/>
<circle cx="660.88" cy="433.2" r="2.4"/>
<circle cx="667.72" cy="433.6" r="2.4"/>
<circle cx="674.56" cy="434.2" r="2.4"/>
<circle cx="681.4" cy="434.6" r="2.4"/>
</g>
<polyline points="407.8,437 414.64,437 421.48,437 428.32,437 435.16,437 442,437 448.84,437 455.68,437 462.52,437 469.36,437 476.2,437 483.04,437 489.88,437 496.72,437 503.56,437 510.4,437 517.24,437 524.08,437 530.92,437 537.76,437 544.6,437 551.44,437 558.28,437 565.12,437 571.96,437 578.8,437 585.64,437 592.48,437 599.32,437 606.16,437 613,437 619.84,437 626.68,437 633.52,437 640.36,437 647.2,437 654.04,437 660.88,437 667.72,437 674.56,437 681.4,437" fill="none" stroke="#000000" stroke-width="1.5" stroke-linejoin="round"/>
<g fill="#000000">
<circle cx="407.8" cy="437" r="2.4"/>
<circle cx="414.64" cy="437" r="2.4"/>
<circle cx="421.48" cy="437" r="2.4"/>
<circle cx="428.32" cy="437" r="2.4"/>
<circle cx="435.16" cy="437" r="2.4"/>
<circle cx="442" cy="437" r="2.4"/>
<circle cx="448.84" cy="437" r="2.4"/>
<circle cx="455.68" cy="437" r="2.4"/>
<circle cx="462.52" cy="437" r="2.4"/>
<circle cx="469.36" cy="437" r="2.4"/>
<circle cx="476.2" cy="437" r="2.4"/>
<circle cx="483.04" cy="437" r="2.4"/>
<circle cx="489.88" cy="437" r="2.4"/>
<circle cx="496.72" cy="437" r="2.4"/>
<circle cx="503.56" cy="437" r="2.4"/>
<circle cx="510.4" cy="437" r="2.4"/>
<circle cx="517.24" cy="437" r="2.4"/>
<circle cx="524.08" cy="437" r="2.4"/>
<circle cx="530.92" cy="437" r="2.4"/>
<circle cx="537.76" cy="437" r="2.4"/>
<circle cx="544.6" cy="437" r="2.4"/>
<circle cx="551.44" cy="437" r="2.4"/>
<circle cx="558.28" cy="437" r="2.4"/>
<circle cx="565.12" cy="437" r="2.4"/>
<circle cx="571.96" cy="437" r="2.4"/>
<circle cx="578.8" cy="437" r="2.4"/>
<circle cx="585.64" cy="437" r="2.4"/>
<circle cx="592.48" cy="437" r="2.4"/>
<circle cx="599.32" cy="437" r="2.4"/>
<circle cx="606.16" cy="437" r="2.4"/>
<circle cx="613" cy="437" r="2.4"/>
<circle cx="619.84" cy="437" r="2.4"/>
<circle cx="626.68" cy="437" r="2.4"/>
<circle cx="633.52" cy="437" r="2.4"/>
<circle cx="640.36" cy="437" r="2.4"/>
<circle cx="647.2" cy="437" r="2.4"/>
<circle cx="654.04" cy="437" r="2.4"/>
<circle cx="660.88" cy="437" r="2.4"/>
<circle cx="667.72" cy="437" r="2.4"/>
<circle cx="674.56" cy="437" r="2.4"/>
<circle cx="681.4" cy="437" r="2.4"/>
</g>
</g>
<rect x="407.4" y="288.7" width="273.8" height="222.6" fill="none" stroke="#555" stroke-width="1"/>
<line x1="407.4" y1="511.3" x2="407.4" y2="514.5" stroke="#555" stroke-width="1"/>
<text x="407.4" y="526.8" text-anchor="middle">0</text>
<line x1="441.62" y1="511.3" x2="441.62" y2="514.5" stroke="#555" stroke-width="1"/>
<text x="441.62" y="526.8" text-anchor="middle">1</text>
<line x1="475.85" y1="511.3" x2="475.85" y2="514.5" stroke="#555" stroke-width="1"/>
<text x="475.85" y="526.8" text-anchor="middle">2</text>
<line x1="510.07" y1="511.3" x2="510.07" y2="514.5" stroke="#555" stroke-width="1"/>
<text x="510.07" y="526.8" text-anchor="middle">3</text>
<line x1="544.3" y1="511.3" x2="544.3" y2="514.5" stroke="#555" stroke-width="1"/>
<text x="544.3" y="526.8" text-anchor="middle">4</text>
<line x1="578.53" y1="511.3" x2="578.53" y2="514.5" stroke="#555" stroke-width="1"/>
<text x="578.53" y="526.8" text-anchor="middle">5</text>
<line x1="612.75" y1="511.3" x2="612.75" y2="514.5" stroke="#555" stroke-width="1"/>
<text x="612.75" y="526.8" text-anchor="middle">6</text>
<line x1="646.98" y1="511.3" x2="646.98" y2="514.5" stroke="#555" stroke-width="1"/>
<text x="646.98" y="526.8" text-anchor="middle">7</text>
<line x1="681.2" y1="511.3" x2="681.2" y2="514.5" stroke="#555" stroke-width="1"/>
<text x="681.2" y="526.8" text-anchor="middle">8</text>
<line x1="404.5" y1="288.7" x2="407.4" y2="288.7" stroke="#555" stroke-width="1"/>
<text x="400.8" y="293.3" text-anchor="end" textLength="37.49" lengthAdjust="spacingAndGlyphs">0.020</text>
<line x1="404.5" y1="325.8" x2="407.4" y2="325.8" stroke="#555" stroke-width="1"/>
<text x="400.8" y="330.4" text-anchor="end" textLength="37.49" lengthAdjust="spacingAndGlyphs">0.015</text>
<line x1="404.5" y1="362.9" x2="407.4" y2="362.9" stroke="#555" stroke-width="1"/>
<text x="400.8" y="367.5" text-anchor="end" textLength="37.49" lengthAdjust="spacingAndGlyphs">0.010</text>
<line x1="404.5" y1="400" x2="407.4" y2="400" stroke="#555" stroke-width="1"/>
<text x="400.8" y="404.6" text-anchor="end" textLength="37.49" lengthAdjust="spacingAndGlyphs">0.005</text>
<line x1="404.5" y1="437.1" x2="407.4" y2="437.1" stroke="#555" stroke-width="1"/>
<text x="400.8" y="441.7" text-anchor="end" textLength="37.49" lengthAdjust="spacingAndGlyphs">0.000</text>
<line x1="404.5" y1="474.2" x2="407.4" y2="474.2" stroke="#555" stroke-width="1"/>
<text x="400.8" y="478.8" text-anchor="end" textLength="47.45" lengthAdjust="spacingAndGlyphs">−0.005</text>
<line x1="404.5" y1="511.3" x2="407.4" y2="511.3" stroke="#555" stroke-width="1"/>
<text x="400.8" y="515.9" text-anchor="end" textLength="47.45" lengthAdjust="spacingAndGlyphs">−0.010</text>
<text x="543.8" y="540.8" text-anchor="middle" font-style="italic" font-size="14.2" textLength="7.1" lengthAdjust="spacingAndGlyphs">ζ</text>
<rect x="223.5" y="29.5" width="88.5" height="58.8" fill="#fff" stroke="none"/>
<polyline points="223.5,31.6 225.71,31.6 227.93,31.6 230.14,31.6 232.35,31.6 234.56,31.6 236.78,31.6 238.99,31.6 241.2,31.6 243.41,31.6 245.62,31.6 247.84,31.6 250.05,31.6 252.26,31.6 254.47,31.6 256.69,31.6 258.9,31.6 261.11,31.6 263.32,31.6 265.54,31.6 267.75,31.6 269.96,31.6 272.18,31.6 274.39,31.6 276.6,31.6 278.81,31.6 281.02,31.6 283.24,31.6 285.45,31.6 287.66,31.6 289.88,31.6 292.09,31.6 294.3,31.6 296.51,31.6 298.73,31.6 300.94,31.6 303.15,31.6 305.36,31.6 307.57,31.6 309.79,31.6 312,31.6" fill="none" stroke="#d2d23a" stroke-width="1.9"/>
<polyline points="223.5,83.9 225.71,83.87 227.93,83.79 230.14,83.69 232.35,83.57 234.56,83.46 236.78,83.36 238.99,83.31 241.2,83.32 243.41,83.46 245.62,83.7 247.84,84 250.05,84.33 252.26,84.66 254.47,84.93 256.69,85.13 258.9,85.2 261.11,85.17 263.32,85.1 265.54,85 267.75,84.9 269.96,84.8 272.18,84.73 274.39,84.7 276.6,84.74 278.81,84.84 281.02,84.98 283.24,85.12 285.45,85.26 287.66,85.36 289.88,85.4 292.09,85.39 294.3,85.35 296.51,85.29 298.73,85.22 300.94,85.15 303.15,85.08 305.36,85.01 307.57,84.95 309.79,84.91 312,84.9" fill="none" stroke="#d2d23a" stroke-width="1.9"/>
<polyline points="223.5,41.4 225.71,41.42 227.93,41.49 230.14,41.58 232.35,41.69 234.56,41.81 236.78,41.92 238.99,42.01 241.2,42.08 243.41,42.1 245.62,42.04 247.84,41.89 250.05,41.67 252.26,41.42 254.47,41.15 256.69,40.91 258.9,40.72 261.11,40.61 263.32,40.6 265.54,40.62 267.75,40.65 269.96,40.69 272.18,40.73 274.39,40.76 276.6,40.79 278.81,40.8 281.02,40.85 283.24,40.98 285.45,41.12 287.66,41.25 289.88,41.3 292.09,41.28 294.3,41.22 296.51,41.13 298.73,41.02 300.94,40.9 303.15,40.78 305.36,40.67 307.57,40.58 309.79,40.52 312,40.5" fill="none" stroke="#000" stroke-width="2.6"/>
<rect x="223.5" y="29.5" width="88.5" height="58.8" fill="none" stroke="#555" stroke-width="1"/>
<line x1="223.5" y1="88.3" x2="223.5" y2="91.3" stroke="#555" stroke-width="1"/>
<text x="223.5" y="103.1" text-anchor="middle">0</text>
<line x1="245.62" y1="88.3" x2="245.62" y2="91.3" stroke="#555" stroke-width="1"/>
<text x="245.62" y="103.1" text-anchor="middle">2</text>
<line x1="267.75" y1="88.3" x2="267.75" y2="91.3" stroke="#555" stroke-width="1"/>
<text x="267.75" y="103.1" text-anchor="middle">4</text>
<line x1="289.88" y1="88.3" x2="289.88" y2="91.3" stroke="#555" stroke-width="1"/>
<text x="289.88" y="103.1" text-anchor="middle">6</text>
<line x1="312" y1="88.3" x2="312" y2="91.3" stroke="#555" stroke-width="1"/>
<text x="312" y="103.1" text-anchor="middle">8</text>
<line x1="220.5" y1="41.1" x2="223.5" y2="41.1" stroke="#555" stroke-width="1"/>
<text x="216.8" y="45.9" text-anchor="end" textLength="28.27" lengthAdjust="spacingAndGlyphs">0.00</text>
<line x1="220.5" y1="55.9" x2="223.5" y2="55.9" stroke="#555" stroke-width="1"/>
<text x="216.8" y="60.7" text-anchor="end" textLength="37.92" lengthAdjust="spacingAndGlyphs">−0.25</text>
<line x1="220.5" y1="70.7" x2="223.5" y2="70.7" stroke="#555" stroke-width="1"/>
<text x="216.8" y="75.5" text-anchor="end" textLength="37.92" lengthAdjust="spacingAndGlyphs">−0.50</text>
<line x1="220.5" y1="85.6" x2="223.5" y2="85.6" stroke="#555" stroke-width="1"/>
<text x="216.8" y="90.4" text-anchor="end" textLength="37.92" lengthAdjust="spacingAndGlyphs">−0.75</text>
<text x="267.45" y="115.4" text-anchor="middle" font-style="italic" font-size="11.6" textLength="6.7" lengthAdjust="spacingAndGlyphs">ζ</text>
<rect x="571.5" y="29.4" width="88" height="59.1" fill="#fff" stroke="none"/>
<polygon points="571.5,64.2 573.7,64.15 575.9,64.05 578.1,63.95 580.3,63.9 582.5,63.8 584.7,63.56 586.9,63.25 589.1,62.94 591.3,62.7 593.5,62.6 595.7,62.67 597.9,62.85 600.1,63.05 602.3,63.23 604.5,63.3 606.7,63.32 608.9,63.37 611.1,63.43 613.3,63.48 615.5,63.5 617.7,63.5 619.9,63.5 622.1,63.5 624.3,63.5 626.5,63.5 628.7,63.5 630.9,63.5 633.1,63.5 635.3,63.5 637.5,63.5 639.7,63.5 641.9,63.5 644.1,63.5 646.3,63.5 648.5,63.5 650.7,63.5 652.9,63.5 655.1,63.5 657.3,63.5 659.5,63.5 659.5,63.9 657.3,63.9 655.1,63.9 652.9,63.91 650.7,63.91 648.5,63.92 646.3,63.93 644.1,63.94 641.9,63.95 639.7,63.96 637.5,63.98 635.3,63.99 633.1,64 630.9,64.01 628.7,64.02 626.5,64.04 624.3,64.05 622.1,64.06 619.9,64.07 617.7,64.08 615.5,64.09 613.3,64.09 611.1,64.1 608.9,64.1 606.7,64.1 604.5,64.13 602.3,64.2 600.1,64.3 597.9,64.4 595.7,64.47 593.5,64.5 591.3,64.51 589.1,64.52 586.9,64.54 584.7,64.57 582.5,64.6 580.3,64.63 578.1,64.66 575.9,64.68 573.7,64.69 571.5,64.7" fill="#000" stroke="#000" stroke-width="1.3" stroke-linejoin="round"/>
<polyline points="571.5,31.6 573.7,31.6 575.9,31.6 578.1,31.6 580.3,31.6 582.5,31.6 584.7,31.6 586.9,31.6 589.1,31.6 591.3,31.6 593.5,31.6 595.7,31.6 597.9,31.6 600.1,31.6 602.3,31.6 604.5,31.6 606.7,31.6 608.9,31.6 611.1,31.6 613.3,31.6 615.5,31.6 617.7,31.6 619.9,31.6 622.1,31.6 624.3,31.6 626.5,31.6 628.7,31.6 630.9,31.6 633.1,31.6 635.3,31.6 637.5,31.6 639.7,31.6 641.9,31.6 644.1,31.6 646.3,31.6 648.5,31.6 650.7,31.6 652.9,31.6 655.1,31.6 657.3,31.6 659.5,31.6" fill="none" stroke="#d2d23a" stroke-width="1.9"/>
<polyline points="571.5,85.6 573.7,85.6 575.9,85.6 578.1,85.6 580.3,85.6 582.5,85.6 584.7,85.6 586.9,85.6 589.1,85.6 591.3,85.6 593.5,85.6 595.7,85.6 597.9,85.6 600.1,85.6 602.3,85.6 604.5,85.6 606.7,85.6 608.9,85.6 611.1,85.6 613.3,85.6 615.5,85.6 617.7,85.6 619.9,85.6 622.1,85.6 624.3,85.6 626.5,85.6 628.7,85.6 630.9,85.6 633.1,85.6 635.3,85.6 637.5,85.6 639.7,85.6 641.9,85.6 644.1,85.6 646.3,85.6 648.5,85.6 650.7,85.6 652.9,85.6 655.1,85.6 657.3,85.6 659.5,85.6" fill="none" stroke="#d2d23a" stroke-width="1.9"/>
<rect x="571.5" y="29.4" width="88" height="59.1" fill="none" stroke="#555" stroke-width="1"/>
<line x1="571.5" y1="88.5" x2="571.5" y2="91.5" stroke="#555" stroke-width="1"/>
<text x="571.5" y="103.3" text-anchor="middle">0</text>
<line x1="593.5" y1="88.5" x2="593.5" y2="91.5" stroke="#555" stroke-width="1"/>
<text x="593.5" y="103.3" text-anchor="middle">2</text>
<line x1="615.5" y1="88.5" x2="615.5" y2="91.5" stroke="#555" stroke-width="1"/>
<text x="615.5" y="103.3" text-anchor="middle">4</text>
<line x1="637.5" y1="88.5" x2="637.5" y2="91.5" stroke="#555" stroke-width="1"/>
<text x="637.5" y="103.3" text-anchor="middle">6</text>
<line x1="659.5" y1="88.5" x2="659.5" y2="91.5" stroke="#555" stroke-width="1"/>
<text x="659.5" y="103.3" text-anchor="middle">8</text>
<line x1="568.5" y1="46.2" x2="571.5" y2="46.2" stroke="#555" stroke-width="1"/>
<text x="564.8" y="51" text-anchor="end" textLength="28.27" lengthAdjust="spacingAndGlyphs">0.25</text>
<line x1="568.5" y1="64.1" x2="571.5" y2="64.1" stroke="#555" stroke-width="1"/>
<text x="564.8" y="68.9" text-anchor="end" textLength="28.27" lengthAdjust="spacingAndGlyphs">0.00</text>
<line x1="568.5" y1="82" x2="571.5" y2="82" stroke="#555" stroke-width="1"/>
<text x="564.8" y="86.8" text-anchor="end" textLength="37.92" lengthAdjust="spacingAndGlyphs">−0.25</text>
<text x="615.2" y="115.6" text-anchor="middle" font-style="italic" font-size="11.6" textLength="6.7" lengthAdjust="spacingAndGlyphs">ζ</text>
<rect x="227.6" y="297.5" width="88.2" height="59.2" fill="#fff" stroke="none"/>
<polyline points="227.6,299.9 229.81,299.9 232.01,299.9 234.22,299.9 236.42,299.9 238.62,299.9 240.83,299.9 243.03,299.9 245.24,299.9 247.44,299.9 249.65,299.9 251.85,299.9 254.06,299.9 256.26,299.9 258.47,299.9 260.68,299.9 262.88,299.9 265.08,299.9 267.29,299.9 269.5,299.9 271.7,299.9 273.91,299.9 276.11,299.9 278.31,299.9 280.52,299.9 282.73,299.9 284.93,299.9 287.13,299.9 289.34,299.9 291.55,299.9 293.75,299.9 295.96,299.9 298.16,299.9 300.37,299.9 302.57,299.9 304.77,299.9 306.98,299.9 309.19,299.9 311.39,299.9 313.6,299.9 315.8,299.9" fill="none" stroke="#d2d23a" stroke-width="1.9"/>
<polyline points="227.6,352.9 229.81,353 232.01,353.25 234.22,353.55 236.42,353.8 238.62,353.9 240.83,353.9 243.03,353.9 245.24,353.9 247.44,353.9 249.65,353.91 251.85,353.91 254.06,353.91 256.26,353.91 258.47,353.92 260.68,353.92 262.88,353.92 265.08,353.93 267.29,353.93 269.5,353.94 271.7,353.94 273.91,353.94 276.11,353.95 278.31,353.95 280.52,353.96 282.73,353.96 284.93,353.96 287.13,353.97 289.34,353.97 291.55,353.98 293.75,353.98 295.96,353.98 298.16,353.99 300.37,353.99 302.57,353.99 304.77,353.99 306.98,354 309.19,354 311.39,354 313.6,354 315.8,354" fill="none" stroke="#d2d23a" stroke-width="1.9"/>
<polyline points="227.6,328.3 229.81,328.25 232.01,328.15 234.22,328.05 236.42,328 238.62,327.95 240.83,327.82 243.03,327.65 245.24,327.48 247.44,327.35 249.65,327.3 251.85,327.36 254.06,327.51 256.26,327.69 258.47,327.84 260.68,327.9 262.88,327.9 265.08,327.9 267.29,327.9 269.5,327.91 271.7,327.91 273.91,327.91 276.11,327.92 278.31,327.92 280.52,327.93 282.73,327.94 284.93,327.94 287.13,327.95 289.34,327.95 291.55,327.96 293.75,327.96 295.96,327.97 298.16,327.98 300.37,327.98 302.57,327.99 304.77,327.99 306.98,327.99 309.19,328 311.39,328 313.6,328 315.8,328" fill="none" stroke="#000" stroke-width="2.1"/>
<rect x="227.6" y="297.5" width="88.2" height="59.2" fill="none" stroke="#555" stroke-width="1"/>
<line x1="227.6" y1="356.7" x2="227.6" y2="359.7" stroke="#555" stroke-width="1"/>
<text x="227.6" y="371.5" text-anchor="middle">0</text>
<line x1="249.65" y1="356.7" x2="249.65" y2="359.7" stroke="#555" stroke-width="1"/>
<text x="249.65" y="371.5" text-anchor="middle">2</text>
<line x1="271.7" y1="356.7" x2="271.7" y2="359.7" stroke="#555" stroke-width="1"/>
<text x="271.7" y="371.5" text-anchor="middle">4</text>
<line x1="293.75" y1="356.7" x2="293.75" y2="359.7" stroke="#555" stroke-width="1"/>
<text x="293.75" y="371.5" text-anchor="middle">6</text>
<line x1="315.8" y1="356.7" x2="315.8" y2="359.7" stroke="#555" stroke-width="1"/>
<text x="315.8" y="371.5" text-anchor="middle">8</text>
<line x1="224.6" y1="308.3" x2="227.6" y2="308.3" stroke="#555" stroke-width="1"/>
<text x="220.9" y="313.1" text-anchor="end" textLength="20.19" lengthAdjust="spacingAndGlyphs">0.5</text>
<line x1="224.6" y1="327.9" x2="227.6" y2="327.9" stroke="#555" stroke-width="1"/>
<text x="220.9" y="332.7" text-anchor="end" textLength="20.19" lengthAdjust="spacingAndGlyphs">0.0</text>
<line x1="224.6" y1="347.3" x2="227.6" y2="347.3" stroke="#555" stroke-width="1"/>
<text x="220.9" y="352.1" text-anchor="end" textLength="29.84" lengthAdjust="spacingAndGlyphs">−0.5</text>
<text x="271.4" y="383.8" text-anchor="middle" font-style="italic" font-size="11.6" textLength="6.7" lengthAdjust="spacingAndGlyphs">ζ</text>
<rect x="575.9" y="297.5" width="88.2" height="58.9" fill="#fff" stroke="none"/>
<polyline points="575.9,299.9 578.11,299.9 580.31,299.9 582.51,299.9 584.72,299.9 586.92,299.9 589.13,299.9 591.34,299.9 593.54,299.9 595.75,299.9 597.95,299.9 600.15,299.9 602.36,299.9 604.56,299.9 606.77,299.9 608.98,299.9 611.18,299.9 613.38,299.9 615.59,299.9 617.79,299.9 620,299.9 622.21,299.9 624.41,299.9 626.62,299.9 628.82,299.9 631.02,299.9 633.23,299.9 635.43,299.9 637.64,299.9 639.85,299.9 642.05,299.9 644.25,299.9 646.46,299.9 648.66,299.9 650.87,299.9 653.08,299.9 655.28,299.9 657.49,299.9 659.69,299.9 661.89,299.9 664.1,299.9" fill="none" stroke="#d2d23a" stroke-width="1.9"/>
<polyline points="575.9,354 578.11,354 580.31,354 582.51,354 584.72,354 586.92,354 589.13,354 591.34,354 593.54,354 595.75,354 597.95,354 600.15,354 602.36,354 604.56,354 606.77,354 608.98,354 611.18,354 613.38,354 615.59,354 617.79,354 620,354 622.21,354 624.41,354 626.62,354 628.82,354 631.02,354 633.23,354 635.43,354 637.64,354 639.85,354 642.05,354 644.25,354 646.46,354 648.66,354 650.87,354 653.08,354 655.28,354 657.49,354 659.69,354 661.89,354 664.1,354" fill="none" stroke="#d2d23a" stroke-width="1.9"/>
<polyline points="575.9,318.9 578.11,318.9 580.31,318.9 582.51,318.9 584.72,318.9 586.92,318.9 589.13,318.9 591.34,318.9 593.54,318.9 595.75,318.9 597.95,318.9 600.15,318.9 602.36,318.9 604.56,318.9 606.77,318.9 608.98,318.9 611.18,318.9 613.38,318.9 615.59,318.9 617.79,318.9 620,318.9 622.21,318.9 624.41,318.9 626.62,318.9 628.82,318.9 631.02,318.9 633.23,318.9 635.43,318.9 637.64,318.9 639.85,318.9 642.05,318.9 644.25,318.9 646.46,318.9 648.66,318.9 650.87,318.9 653.08,318.9 655.28,318.9 657.49,318.9 659.69,318.9 661.89,318.9 664.1,318.9" fill="none" stroke="#000" stroke-width="2.1"/>
<rect x="575.9" y="297.5" width="88.2" height="58.9" fill="none" stroke="#555" stroke-width="1"/>
<line x1="575.9" y1="356.4" x2="575.9" y2="359.4" stroke="#555" stroke-width="1"/>
<text x="575.9" y="371.2" text-anchor="middle">0</text>
<line x1="597.95" y1="356.4" x2="597.95" y2="359.4" stroke="#555" stroke-width="1"/>
<text x="597.95" y="371.2" text-anchor="middle">2</text>
<line x1="620" y1="356.4" x2="620" y2="359.4" stroke="#555" stroke-width="1"/>
<text x="620" y="371.2" text-anchor="middle">4</text>
<line x1="642.05" y1="356.4" x2="642.05" y2="359.4" stroke="#555" stroke-width="1"/>
<text x="642.05" y="371.2" text-anchor="middle">6</text>
<line x1="664.1" y1="356.4" x2="664.1" y2="359.4" stroke="#555" stroke-width="1"/>
<text x="664.1" y="371.2" text-anchor="middle">8</text>
<line x1="572.9" y1="318.9" x2="575.9" y2="318.9" stroke="#555" stroke-width="1"/>
<text x="569.2" y="323.7" text-anchor="end" textLength="8.08" lengthAdjust="spacingAndGlyphs">0</text>
<line x1="572.9" y1="341.3" x2="575.9" y2="341.3" stroke="#555" stroke-width="1"/>
<text x="569.2" y="346.1" text-anchor="end" textLength="17.73" lengthAdjust="spacingAndGlyphs">−2</text>
<text x="619.7" y="383.5" text-anchor="middle" font-style="italic" font-size="11.6" textLength="6.7" lengthAdjust="spacingAndGlyphs">ζ</text>
<path d="M168.5 58.3V62.1H175.5V58.2M172 59.3V62.1" fill="none" stroke="#262626" stroke-width="1.1" stroke-linejoin="round"/>
<path d="M516.5 57.7V61.5H523.5V57.6M520 58.7V61.5" fill="none" stroke="#262626" stroke-width="1.1" stroke-linejoin="round"/>
<path d="M181.5 326.2V330H188.5V326.1M185 327.2V330" fill="none" stroke="#262626" stroke-width="1.1" stroke-linejoin="round"/>
<path d="M540.6 326.5V330.3H547.6V326.4M544.1 327.5V330.3" fill="none" stroke="#262626" stroke-width="1.1" stroke-linejoin="round"/>
<line x1="65.6" y1="36.9" x2="89.6" y2="36.9" stroke="#ff0000" stroke-width="1.5"/>
<circle cx="77.8" cy="36.9" r="2.4" fill="#ff0000"/>
<text x="98.5" y="41.4" font-style="italic" font-size="12.5" fill="#333">J</text>
<line x1="65.6" y1="55.3" x2="89.6" y2="55.3" stroke="#0000ff" stroke-width="1.5"/>
<circle cx="77.8" cy="55.3" r="2.4" fill="#0000ff"/>
<text x="98.5" y="59.8" font-style="italic" font-size="12.5" fill="#333">K</text>
<line x1="65.6" y1="72.8" x2="89.6" y2="72.8" stroke="#008000" stroke-width="1.5"/>
<circle cx="77.8" cy="72.8" r="2.4" fill="#008000"/>
<text x="98.5" y="77.3" font-style="normal" font-size="12.5" fill="#333">Γ</text>
<line x1="65.6" y1="90.3" x2="89.6" y2="90.3" stroke="#000000" stroke-width="1.5"/>
<circle cx="77.8" cy="90.3" r="2.4" fill="#000000"/>
<text x="98.5" y="94.8" font-style="italic" font-size="12.5" fill="#333">h</text>
<g font-family='"Liberation Serif", serif' font-size="16" fill="#000" stroke="#000" stroke-width="0.3">
<text x="112.2" y="46.1" font-style="italic">ω</text>
<rect x="129.3" y="39.42" width="10.8" height="1.15" fill="#111" stroke="none"/>
<rect x="129.3" y="43.27" width="10.8" height="1.15" fill="#111" stroke="none"/>
<text x="145.9" y="46.1" textLength="19.5" lengthAdjust="spacingAndGlyphs">1.2</text>
</g>
<g font-family='"Liberation Serif", serif' font-size="16" fill="#000" stroke="#000" stroke-width="0.3">
<text x="419.9" y="46.3" font-style="italic">ω</text>
<rect x="437.5" y="39.42" width="10.1" height="1.15" fill="#111" stroke="none"/>
<rect x="437.5" y="43.27" width="10.1" height="1.15" fill="#111" stroke="none"/>
<text x="453.4" y="46.3" textLength="19.7" lengthAdjust="spacingAndGlyphs">2.1</text>
</g>
<g font-family='"Liberation Serif", serif' font-size="16" fill="#000" stroke="#000" stroke-width="0.3">
<text x="77.2" y="312" font-style="italic">ω</text>
<rect x="94.5" y="304.82" width="10.5" height="1.15" fill="#111" stroke="none"/>
<rect x="94.5" y="308.57" width="10.5" height="1.15" fill="#111" stroke="none"/>
<text x="110.6" y="312" textLength="20.5" lengthAdjust="spacingAndGlyphs">3.2</text>
</g>
<g font-family='"Liberation Serif", serif' font-size="16" fill="#000" stroke="#000" stroke-width="0.3">
<text x="426.7" y="312" font-style="italic">ω</text>
<rect x="443.8" y="304.82" width="10" height="1.15" fill="#111" stroke="none"/>
<rect x="443.8" y="308.57" width="10" height="1.15" fill="#111" stroke="none"/>
<text x="459.9" y="312" textLength="8.6" lengthAdjust="spacingAndGlyphs">7</text>
</g>
<text x="-3.3" y="16" font-size="19.5" fill="#000">a</text>
<text x="9.7" y="14" font-size="19" fill="#000">)</text>
<text x="343.1" y="16" font-size="19.5" fill="#000">b</text>
<text x="353.9" y="14" font-size="19" fill="#000">)</text>
<text x="2.2" y="283" font-size="19.5" fill="#000">c</text>
<text x="11.2" y="282" font-size="19" fill="#000">)</text>
<text x="342.4" y="283" font-size="19.5" fill="#000">d</text>
<text x="353.8" y="282" font-size="19" fill="#000">)</text>
</svg></body></html>
